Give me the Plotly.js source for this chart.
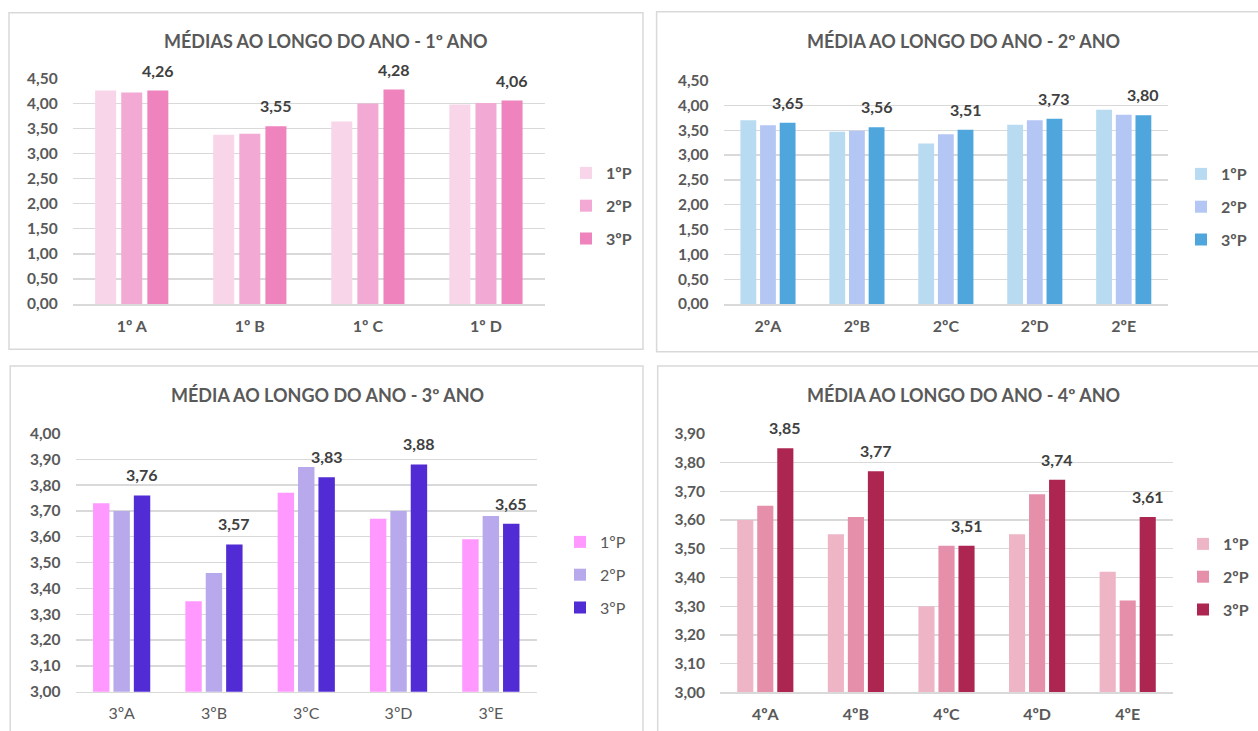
<!DOCTYPE html>
<html>
<head>
<meta charset="utf-8">
<script src="https://cdn.plot.ly/plotly-3.0.1.min.js"></script>
<style>
  html, body { margin: 0; padding: 0; background: #ffffff; }
  #chart { width: 1258px; height: 731px; }
</style>
</head>
<body>
<div id="chart"></div>
<script>
// Médias por turma ao longo do ano, por período (1ºP, 2ºP, 3ºP)
const periods = ['1ºP', '2ºP', '3ºP'];

// 1º ano
const classes1 = ['1º A', '1º B', '1º C', '1º D'];
const ano1_p1 = [4.26, 3.38, 3.64, 3.98];
const ano1_p2 = [4.22, 3.40, 4.00, 4.01];
const ano1_p3 = [4.26, 3.55, 4.28, 4.06];

// 2º ano
const classes2 = ['2ºA', '2ºB', '2ºC', '2ºD', '2ºE'];
const ano2_p1 = [3.70, 3.47, 3.23, 3.61, 3.91];
const ano2_p2 = [3.60, 3.49, 3.42, 3.70, 3.81];
const ano2_p3 = [3.65, 3.56, 3.51, 3.73, 3.80];

// 3º ano
const classes3 = ['3ºA', '3ºB', '3ºC', '3ºD', '3ºE'];
const ano3_p1 = [3.73, 3.35, 3.77, 3.67, 3.59];
const ano3_p2 = [3.70, 3.46, 3.87, 3.70, 3.68];
const ano3_p3 = [3.76, 3.57, 3.83, 3.88, 3.65];

// 4º ano
const classes4 = ['4ºA', '4ºB', '4ºC', '4ºD', '4ºE'];
const ano4_p1 = [3.60, 3.55, 3.30, 3.55, 3.42];
const ano4_p2 = [3.65, 3.61, 3.51, 3.69, 3.32];
const ano4_p3 = [3.85, 3.77, 3.51, 3.74, 3.61];

// y-axis tick values per chart
const ticks1 = [0, 0.5, 1, 1.5, 2, 2.5, 3, 3.5, 4, 4.5];
const ticks3 = [3.0, 3.1, 3.2, 3.3, 3.4, 3.5, 3.6, 3.7, 3.8, 3.9, 4.0];
const ticks4 = [3.0, 3.1, 3.2, 3.3, 3.4, 3.5, 3.6, 3.7, 3.8, 3.9];

const titles = [
  'MÉDIAS AO LONGO DO ANO - 1º ANO',
  'MÉDIA AO LONGO DO ANO - 2º ANO',
  'MÉDIA AO LONGO DO ANO - 3º ANO',
  'MÉDIA AO LONGO DO ANO - 4º ANO'
];

// ---- page geometry helpers (pixels -> paper fractions) ----
const W = 1258, H = 731;
const px = x => x / W;
const py = y => 1 - y / H;

const FONT = 'Lato, "Open Sans", sans-serif';
const GREY = '#595959';
const LABEL = '#404040';
const GRID = '#d9d9d9';
const BARGAP = 0.337;

const charts = [
  { cats: classes1, series: [ano1_p1, ano1_p2, ano1_p3],
    colors: ['#f8d5e9', '#f2a9d3', '#ee83bd'],
    xdom: [72.7, 545], ydom: [304, 78.5], range: [0, 4.5], ticks: ticks1,
    bold: true, title: titles[0], titleX: 326, titleY: 41,
    legX: 566, legY: 156, frame: [9, 12.7, 643, 349.3] },
  { cats: classes2, series: [ano2_p1, ano2_p2, ano2_p3],
    colors: ['#b9dbf1', '#b4c6f4', '#4ea6dc'],
    xdom: [723.5, 1168.2], ydom: [304, 80.5], range: [0, 4.5], ticks: ticks1,
    bold: true, title: titles[1], titleX: 963, titleY: 41,
    legX: 1181, legY: 157, frame: [656.6, 11.7, 1260, 351.7] },
  { cats: classes3, series: [ano3_p1, ano3_p2, ano3_p3],
    colors: ['#ff99ff', '#b8a9ec', '#512bd4'],
    xdom: [75.5, 537], ydom: [691.7, 433.3], range: [3, 4], ticks: ticks3,
    bold: false, title: titles[2], titleX: 327, titleY: 395,
    legX: 560, legY: 525, frame: [10.2, 366, 643, 735] },
  { cats: classes4, series: [ano4_p1, ano4_p2, ano4_p3],
    colors: ['#eeb5c6', '#e58fab', '#ad2651'],
    xdom: [720, 1173], ydom: [692.3, 433.7], range: [3, 3.9], ticks: ticks4,
    bold: true, title: titles[3], titleX: 963, titleY: 395,
    legX: 1183, legY: 527, frame: [657.7, 366, 1260, 735] }
];

const fmt = v => v.toFixed(2).replace('.', ',');

const data = [];
const layout = {
  width: W, height: H,
  margin: { l: 0, r: 0, t: 0, b: 0, autoexpand: false },
  paper_bgcolor: '#ffffff',
  plot_bgcolor: 'rgba(0,0,0,0)',
  barmode: 'group',
  bargap: BARGAP,
  bargroupgap: 0.195,
  separators: ',.',
  font: { family: FONT, color: GREY },
  showlegend: true,
  shapes: [],
  annotations: []
};

charts.forEach((c, k) => {
  const n = k + 1;
  const xa = n === 1 ? 'x' : 'x' + n;
  const ya = n === 1 ? 'y' : 'y' + n;
  const legName = n === 1 ? 'legend' : 'legend' + n;
  const weight = c.bold ? 'bold' : 'normal';

  c.series.forEach((vals, s) => {
    data.push({
      type: 'bar',
      name: periods[s],
      x: c.cats,
      y: vals,
      xaxis: xa, yaxis: ya,
      legend: legName,
      legendgroup: legName + '_' + s,
      marker: { color: c.colors[s], line: { width: 0 } },
      hoverinfo: 'x+y+name'
    });
  });

  layout['xaxis' + (n === 1 ? '' : n)] = {
    domain: [px(c.xdom[0]), px(c.xdom[1])],
    anchor: ya,
    type: 'category',
    showgrid: false,
    zeroline: false,
    showline: true, linecolor: GRID, linewidth: 1.5,
    ticks: '',
    ticklabelstandoff: 7,
    tickfont: { family: FONT, size: 16, color: GREY, weight: weight },
    automargin: false,
    fixedrange: true
  };
  layout['yaxis' + (n === 1 ? '' : n)] = {
    domain: [py(c.ydom[0]), py(c.ydom[1])],
    anchor: xa,
    range: [c.range[0], c.range[1] + 0.0005],
    tickvals: c.ticks,
    tickformat: '.2f',
    showgrid: true, gridcolor: GRID, gridwidth: 1.3,
    zeroline: false,
    showline: false,
    ticks: '',
    ticklabelstandoff: 14,
    tickfont: { family: FONT, size: 15.5, color: GREY, weight: 'bold' },
    automargin: false,
    fixedrange: true
  };

  layout[legName] = {
    x: px(c.legX), y: py(c.legY),
    xanchor: 'left', yanchor: 'top',
    xref: 'paper', yref: 'paper',
    orientation: 'v',
    traceorder: 'grouped',
    tracegroupgap: 9,
    bgcolor: 'rgba(0,0,0,0)',
    font: { family: FONT, size: 16, color: GREY, weight: weight }
  };

  // panel frame
  layout.shapes.push({
    type: 'rect', xref: 'paper', yref: 'paper', layer: 'below',
    x0: px(c.frame[0]), x1: px(c.frame[2]),
    y0: py(c.frame[3]), y1: py(c.frame[1]),
    line: { color: GRID, width: 1.5 }, fillcolor: 'rgba(0,0,0,0)'
  });

  // chart title
  layout.annotations.push({
    xref: 'paper', yref: 'paper',
    x: px(c.titleX), y: py(c.titleY),
    xanchor: 'center', yanchor: 'middle',
    text: c.title, showarrow: false,
    font: { family: FONT, size: 18, color: GREY, weight: 'bold' }
  });

  // value labels above the 3rd-period bars
  const slot = (1 - BARGAP) / 3;
  c.series[2].forEach((v, i) => {
    layout.annotations.push({
      xref: xa, yref: ya,
      x: i + slot, y: v,
      xanchor: 'center', yanchor: 'bottom',
      yshift: 9,
      text: fmt(v), showarrow: false,
      font: { family: FONT, size: 16, color: LABEL, weight: 'bold' }
    });
  });
});

Plotly.newPlot('chart', data, layout, { displayModeBar: false, staticPlot: true });
</script>
</body>
</html>
